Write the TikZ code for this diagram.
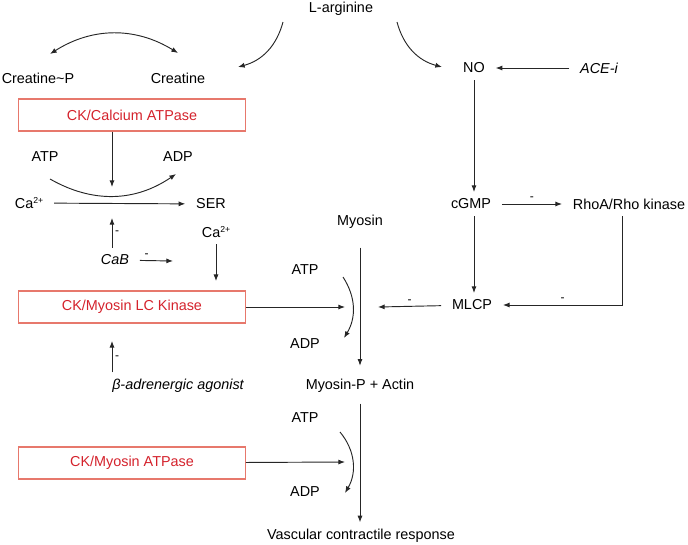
\documentclass[tikz,border=0pt]{standalone}
\usepackage{fontspec}
\setmainfont{Liberation Sans}
\usetikzlibrary{arrows.meta,calc,positioning}
\definecolor{boxred}{RGB}{231,120,108}
\definecolor{txtred}{RGB}{212,34,44}
\newcommand{\caion}{Ca\raisebox{0.6ex}{\fontsize{6.5}{7}\selectfont 2+}}
\tikzset{
  lbl/.style={inner xsep=8pt,inner ysep=5pt,font=\fontsize{10.8}{12}\selectfont},
  ckbox/.style={draw=boxred,line width=0.8pt,text=txtred,minimum width=170pt,minimum height=24pt},
  arr/.style={-{Latex[length=5pt,width=3.8pt]},line width=0.7pt,draw=black!85},
  dblarr/.style={{Latex[length=5pt,width=3.8pt]}-{Latex[length=5pt,width=3.8pt]},line width=0.7pt,draw=black!85},
  minus/.style={font=\small,inner sep=2pt}
}
\begin{document}
\begin{tikzpicture}[x=0.75pt,y=-0.75pt,every node/.style={lbl}]
\useasboundingbox (0,0) rectangle (688,544);
\node (larg) at (341,9) {L-arginine};
\node (crp) at (38,78) {Creatine\textasciitilde P};
\node (cr) at (178,78) {Creatine};
\node (no) at (474,68) {NO};
\node (ace) at (599,68) {\itshape ACE-i};
\node[ckbox] (ckca) at (132,115) {CK/Calcium ATPase};
\node (atpa) at (45,157) {ATP};
\node (adpa) at (178,157) {ADP};
\node (caa) at (29,203) {\caion};
\node (ser) at (211,204) {SER};
\node (cab2) at (216,232) {\caion};
\node (cab) at (115,260) {\itshape CaB};
\node (cgmp) at (471,204) {cGMP};
\node (rho) at (629,204) {RhoA/Rho kinase};
\node (myo) at (360,222) {Myosin};
\node (atpb) at (305,270) {ATP};
\node[ckbox] (cklc) at (132,307) {CK/Myosin LC Kinase};
\node (mlcp) at (472,305) {MLCP};
\node (adpb) at (305,344) {ADP};
\node (beta) at (178,386) {\itshape β-adrenergic agonist};
\node (myp) at (360,386) {Myosin-P + Actin};
\node (atpc) at (305,418) {ATP};
\node[ckbox] (ckat) at (132,463) {CK/Myosin ATPase};
\node (adpc) at (305,492) {ADP};
\node (vcr) at (361,536) {Vascular contractile response};
\coordinate (crl) at (178,53);
\coordinate (crpl) at (50,54);
\coordinate (largl) at (283,22);
\coordinate (crin) at (238,67);
\coordinate (largr) at (397,22);
\coordinate (noin) at (442,67);
\coordinate (atpout) at (50,179);
\coordinate (adpin) at (176,174);
\coordinate (camid) at (112,187);
\coordinate (cabup) at (112,218);
\coordinate (cabend) at (173,261);
\coordinate (atpbout) at (343,277);
\coordinate (adpbin) at (344,338);
\coordinate (lcend) at (345,307);
\coordinate (mlcpend) at (378,307);
\coordinate (atpcout) at (340,432);
\coordinate (adpcin) at (345,493);
\coordinate (atend) at (345,462);
\draw[dblarr] (crl) to[bend right=32] (crpl);
\draw[arr] (largl) to[bend left=30] (crin);
\draw[arr] (largr) to[bend right=30] (noin);
\draw[arr] (ace) -- (no);
\draw[arr] (no.south) -- (no.south |- cgmp.north);
\draw[arr] (cgmp) -- node[minus,above]{-} (rho);
\draw[arr] ([xshift=-5pt]rho.south) |- node[minus,above,pos=0.75]{-} (mlcp.east);
\draw[arr] (cgmp.south -| no.south) -- (no.south |- mlcp.north);
\draw[arr] (mlcp) -- node[minus,above]{-} (mlcpend);
\draw[arr,shorten <=9pt,shorten >=5pt] (myo.south) -- (myp.north);
\draw[arr,shorten <=3pt] (myp.south) -- (myp.south |- vcr.north);
\draw[arr] (atpout) to[bend right=32] (adpin);
\draw[arr] (ckca.south -| camid) -- (camid);
\draw[arr] (caa) -- (ser);
\draw[arr] (cab.north -| camid) -- node[minus,right]{-} (cabup);
\draw[arr] (cab) -- node[minus,above,pos=0.2]{-} (cabend);
\draw[arr,shorten >=7pt] (cab2.south) -- (cab2.south |- cklc.north);
\draw[arr] (atpbout) to[bend left=32] (adpbin);
\draw[arr] (cklc) -- (lcend);
\draw[arr,shorten >=13pt] (beta.north -| camid) -- node[minus,right,pos=0.3]{-} (cklc.south -| camid);
\draw[arr] (atpcout) to[bend left=35] (adpcin);
\draw[arr] (ckat) -- (atend);
\end{tikzpicture}
\end{document}
